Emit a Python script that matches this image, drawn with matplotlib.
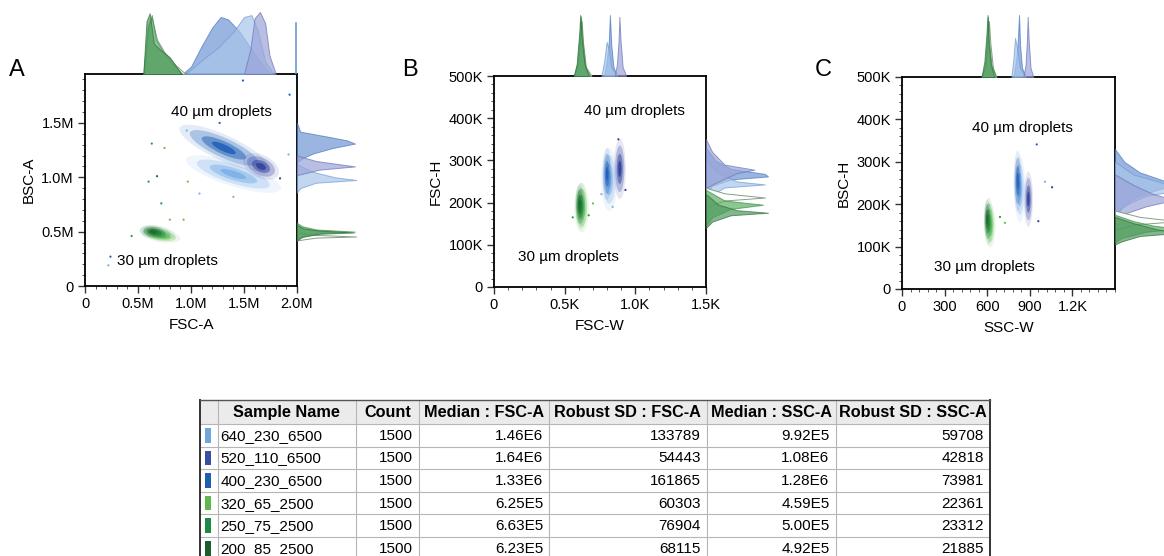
import matplotlib
matplotlib.use("Agg")
import matplotlib.pyplot as plt
from matplotlib.patches import Ellipse, Rectangle
from matplotlib.ticker import MultipleLocator, FixedLocator, FuncFormatter
import numpy as np

plt.rcParams['font.family'] = ['Liberation Sans', 'DejaVu Sans']

# ------------------------------------------------------------------ data
samples = ['640_230_6500', '520_110_6500', '400_230_6500',
           '320_65_2500', '250_75_2500', '200_85_2500']
counts = [1500, 1500, 1500, 1500, 1500, 1500]
median_fsc_a = [1.46e6, 1.64e6, 1.33e6, 6.25e5, 6.63e5, 6.23e5]
robust_sd_fsc_a = [133789, 54443, 161865, 60303, 76904, 68115]
median_ssc_a = [9.92e5, 1.08e6, 1.28e6, 4.59e5, 5.00e5, 4.92e5]
robust_sd_ssc_a = [59708, 42818, 73981, 22361, 23312, 21885]
table_headers = ['', 'Sample Name', 'Count', 'Median : FSC-A', 'Robust SD : FSC-A',
                 'Median : SSC-A', 'Robust SD : SSC-A']

swatch_colors = ['#6fa6de', '#3a4ea6', '#1d5fb2', '#5cba4c', '#1e8b45', '#1c5e2d']
dot_colors = ['#7cb0e8', '#2f3f9e', '#1f5fb8', '#66c050', '#2a9a48', '#1c6b2e']
hist_fill = ['#a9c5ea', '#9ba4d8', '#6f97d4', '#ffffff', '#5fae62', '#4e9a5e']
hist_edge = ['#6f9bd2', '#6a74b8', '#4a78c0', '#7f9a80', '#3b8a48', '#2e6e3c']

# Panel A clusters (FSC-A vs BSC-A, millions)
a_cx = [1.40, 1.66, 1.31, 0.72, 0.68, 0.64]
a_cy = [1.03, 1.10, 1.27, 0.46, 0.49, 0.50]
a_w = [0.72, 0.28, 0.70, 0.28, 0.26, 0.18]
a_h = [0.17, 0.16, 0.18, 0.09, 0.10, 0.09]
a_ang = [-17, -25, -24, -8, -8, -8]
# Panel B clusters (FSC-W in K, FSC-H in K)
b_cx = [0.815, 0.89, 0.80, 0.62, 0.615, 0.605]
b_cy = [255, 280, 268, 188, 192, 195]
b_w = [0.09, 0.065, 0.05, 0.08, 0.06, 0.045]
b_h = [115, 110, 95, 90, 85, 70]
# Panel C clusters (SSC-W, BSC-H in K)
c_cx = [830, 890, 815, 620, 610, 600]
c_cy = [235, 212, 255, 150, 160, 165]
c_w = [60, 50, 45, 60, 50, 35]
c_h = [120, 100, 110, 80, 85, 70]

# isolated events (x, y, sample index)
a_out_x = [1.49, 1.93, 1.92, 0.24, 0.22, 1.27, 0.96, 1.08, 1.40, 1.84,
           0.63, 0.75, 0.60, 0.68, 0.72, 0.97, 0.80, 0.93, 0.44]
a_out_y = [1.89, 1.76, 1.21, 0.27, 0.19, 1.50, 1.43, 0.85, 0.82, 0.99,
           1.31, 1.27, 0.96, 1.01, 0.76, 0.96, 0.61, 0.61, 0.46]
a_out_s = [2, 2, 0, 2, 0, 2, 0, 0, 0, 1, 4, 3, 4, 5, 4, 3, 3, 3, 4]
b_out_x = [0.557, 0.70, 0.84, 0.93, 0.76, 0.88, 0.67]
b_out_y = [165, 198, 190, 230, 220, 350, 170]
b_out_s = [4, 3, 0, 1, 0, 1, 4]
c_out_x = [725, 1007, 1057, 949, 690, 960]
c_out_y = [156, 253, 240, 341, 170, 160]
c_out_s = [3, 0, 1, 2, 4, 1]

# marginal histograms (positions, normalised heights), sample order as above
a_top_pos = [[0.95, 1.10, 1.25, 1.40, 1.50, 1.57, 1.63, 1.70, 1.78],
             [1.50, 1.56, 1.60, 1.65, 1.70, 1.74, 1.80],
             [0.92, 1.00, 1.10, 1.20, 1.28, 1.35, 1.45, 1.55, 1.65, 1.75],
             [0.56, 0.60, 0.63, 0.68, 0.75, 0.85, 0.95],
             [0.55, 0.59, 0.63, 0.67, 0.74, 0.82, 0.92],
             [0.55, 0.58, 0.61, 0.65, 0.71, 0.80, 0.91]]
a_top_h = [[0, 0.22, 0.42, 0.68, 0.92, 0.95, 0.70, 0.20, 0],
           [0, 0.40, 0.90, 1.00, 0.82, 0.30, 0],
           [0, 0.12, 0.45, 0.75, 0.92, 0.88, 0.70, 0.45, 0.20, 0],
           [0, 0.80, 0.90, 0.55, 0.35, 0.15, 0],
           [0, 0.75, 0.95, 0.55, 0.35, 0.18, 0],
           [0, 0.85, 0.98, 0.49, 0.39, 0.27, 0]]
a_sat_x = 1.99
a_sat_h = 0.83
a_right_pos = [[1.12, 1.05, 1.00, 0.975, 0.95, 0.90, 0.86],
               [1.20, 1.15, 1.10, 1.07, 1.02],
               [1.50, 1.42, 1.37, 1.34, 1.31, 1.27, 1.22, 1.18, 1.14],
               [0.49, 0.47, 0.455, 0.445, 0.42],
               [0.58, 0.55, 0.52, 0.50, 0.49, 0.46, 0.43],
               [0.56, 0.53, 0.51, 0.492, 0.48, 0.45, 0.42]]
a_right_h = [[0, 0.25, 0.60, 0.94, 0.30, 0.05, 0],
             [0, 0.30, 0.92, 0.35, 0],
             [0, 0.05, 0.52, 0.79, 0.92, 0.57, 0.26, 0.10, 0],
             [0, 0.30, 0.94, 0.30, 0],
             [0, 0.08, 0.30, 0.92, 0.40, 0.10, 0],
             [0, 0.10, 0.35, 0.90, 0.35, 0.08, 0]]
b_top_pos = [[0.76, 0.78, 0.797, 0.81, 0.83, 0.87],
             [0.855, 0.87, 0.882, 0.887, 0.895, 0.91, 0.935],
             [0.78, 0.80, 0.812, 0.82, 0.83, 0.845, 0.87],
             [0.57, 0.595, 0.61, 0.62, 0.63, 0.65, 0.69],
             [0.565, 0.59, 0.607, 0.615, 0.625, 0.645, 0.68],
             [0.565, 0.585, 0.603, 0.61, 0.62, 0.64, 0.67]]
b_top_h = [[0, 0.25, 0.56, 0.45, 0.15, 0],
           [0, 0.2, 0.6, 0.97, 0.6, 0.15, 0],
           [0, 0.3, 0.55, 1.0, 0.5, 0.15, 0],
           [0, 0.2, 0.6, 0.9, 0.55, 0.15, 0],
           [0, 0.2, 0.7, 0.98, 0.6, 0.15, 0],
           [0, 0.2, 0.7, 1.0, 0.6, 0.2, 0]]
b_right_pos = [[300, 270, 250, 243, 236, 215, 200],
               [350, 320, 290, 278, 270, 250, 235],
               [330, 300, 280, 268, 262, 255, 240, 220],
               [235, 222, 212, 205, 190],
               [230, 205, 195, 185, 165, 145],
               [220, 195, 182, 176, 170, 155, 140]]
b_right_h = [[0, 0.2, 0.5, 0.95, 0.3, 0.05, 0],
             [0, 0.1, 0.3, 0.78, 0.5, 0.2, 0],
             [0, 0.15, 0.4, 0.95, 1.0, 0.4, 0.1, 0],
             [0, 0.3, 0.95, 0.3, 0],
             [0, 0.3, 0.92, 0.4, 0.1, 0],
             [0, 0.2, 0.5, 1.0, 0.4, 0.1, 0]]
c_top_pos = [[770, 785, 796, 808, 830, 870],
             [855, 870, 880, 885, 892, 905, 925],
             [785, 805, 815, 824, 832, 845, 870],
             [565, 590, 603, 612, 622, 640, 665],
             [560, 585, 598, 605, 612, 630, 660],
             [560, 580, 595, 602, 610, 625, 650]]
c_top_h = [[0, 0.3, 0.63, 0.5, 0.15, 0],
           [0, 0.2, 0.6, 0.97, 0.6, 0.15, 0],
           [0, 0.3, 0.55, 1.0, 0.5, 0.15, 0],
           [0, 0.2, 0.55, 0.9, 0.55, 0.15, 0],
           [0, 0.2, 0.6, 0.97, 0.6, 0.2, 0],
           [0, 0.25, 0.7, 1.0, 0.55, 0.2, 0]]
c_right_pos = [[300, 270, 245, 232, 220, 200, 180],
               [270, 245, 225, 210, 195, 180, 165],
               [330, 300, 275, 255, 245, 235, 215, 190, 170],
               [185, 170, 160, 152, 140],
               [175, 160, 150, 142, 135, 120, 110],
               [170, 155, 140, 132, 125, 112, 105]]
c_right_h = [[0, 0.3, 0.9, 1.0, 0.5, 0.2, 0],
             [0, 0.3, 0.6, 0.95, 0.5, 0.2, 0],
             [0, 0.15, 0.4, 0.8, 1.0, 0.7, 0.3, 0.1, 0],
             [0, 0.4, 1.0, 0.3, 0],
             [0, 0.3, 0.6, 1.0, 0.5, 0.1, 0],
             [0, 0.3, 0.7, 1.0, 0.4, 0.1, 0]]

hist_order = [2, 0, 1, 3, 4, 5]
draw_order = [0, 2, 1, 3, 4, 5]

# ------------------------------------------------------------------ figure
W, H = 1164, 556
fig = plt.figure(figsize=(W / 100, H / 100), dpi=100)


def px_axes(x0, y0, x1, y1, **kw):
    return fig.add_axes([x0 / W, 1 - y1 / H, (x1 - x0) / W, (y1 - y0) / H], **kw)


FS_TICK = 10.5
FS_LAB = 11


def style_main(ax, xlabel, ylabel, ylabpad):
    for s in ax.spines.values():
        s.set_linewidth(1.3)
        s.set_color('black')
    ax.tick_params(which='major', direction='out', length=5, width=1,
                   labelsize=FS_TICK, pad=3, color='#333333')
    ax.tick_params(which='minor', direction='out', length=2.5, width=0.7, color='#555555')
    ax.set_xlabel(xlabel, fontsize=FS_LAB, labelpad=5)
    ax.set_ylabel(ylabel, fontsize=FS_LAB, labelpad=ylabpad)


LAYERS = [(1.3, 0.12), (1.0, 0.28), (0.65, 0.5), (0.35, 0.85)]


def draw_clusters(ax, cx, cy, w, h, ang=None):
    for i in draw_order:
        a = 0 if ang is None else ang[i]
        for sc, al in LAYERS:
            ax.add_patch(Ellipse((cx[i], cy[i]), w[i] * sc, h[i] * sc, angle=a,
                                 facecolor=dot_colors[i], edgecolor='none', alpha=al, zorder=2))


def draw_out(ax, xs, ys, ss):
    ax.scatter(xs, ys, s=2.5, c=[dot_colors[k] for k in ss], linewidths=0, zorder=3)


def draw_top(ax, pos, hh, xlim):
    ax.set_xlim(*xlim)
    ax.set_ylim(0, 1)
    ax.axis('off')
    for i in hist_order:
        al = 0.95 if i == 3 else 0.7
        ax.fill_between(pos[i], 0, hh[i], facecolor=hist_fill[i], edgecolor=hist_edge[i],
                        linewidth=0.7, alpha=al)


def draw_right(ax, pos, hh, ylim):
    ax.set_ylim(*ylim)
    ax.set_xlim(0, 1)
    ax.axis('off')
    for i in hist_order:
        al = 0.95 if i == 3 else 0.7
        ax.fill_betweenx(pos[i], 0, hh[i], facecolor=hist_fill[i], edgecolor=hist_edge[i],
                         linewidth=0.7, alpha=al)


# ---------------- Panel A
axA = px_axes(85, 74, 297, 286)
axA.set_xlim(0, 2.0)
axA.set_ylim(0, 1.95)
axA.xaxis.set_major_locator(FixedLocator([0, 0.5, 1.0, 1.5, 2.0]))
axA.yaxis.set_major_locator(FixedLocator([0, 0.5, 1.0, 1.5]))
axA.xaxis.set_minor_locator(MultipleLocator(0.1))
axA.yaxis.set_minor_locator(MultipleLocator(0.1))
fmtM = FuncFormatter(lambda v, p: '0' if abs(v) < 1e-9 else f'{v:.1f}M')
axA.xaxis.set_major_formatter(fmtM)
axA.yaxis.set_major_formatter(fmtM)
style_main(axA, 'FSC-A', 'BSC-A', 4)
draw_clusters(axA, a_cx, a_cy, a_w, a_h, a_ang)
draw_out(axA, a_out_x, a_out_y, a_out_s)
axA.text(0.81, 1.60, '40 µm droplets', fontsize=FS_LAB, va='center', ha='left')
axA.text(0.30, 0.23, '30 µm droplets', fontsize=FS_LAB, va='center', ha='left')

axAt = px_axes(85, 12, 297, 74)
draw_top(axAt, a_top_pos, a_top_h, (0, 2.0))
axAt.plot([a_sat_x, a_sat_x], [0, a_sat_h], color='#6f9bd2', lw=1.2)
axAr = px_axes(297, 74, 360, 286)
draw_right(axAr, a_right_pos, a_right_h, (0, 1.95))

# ---------------- Panel B
axB = px_axes(494, 76, 706, 287)
axB.set_xlim(0, 1.5)
axB.set_ylim(0, 500)
axB.xaxis.set_major_locator(FixedLocator([0, 0.5, 1.0, 1.5]))
axB.yaxis.set_major_locator(FixedLocator([0, 100, 200, 300, 400, 500]))
axB.xaxis.set_minor_locator(MultipleLocator(0.1))
axB.yaxis.set_minor_locator(MultipleLocator(20))
axB.xaxis.set_major_formatter(FuncFormatter(lambda v, p: '0' if abs(v) < 1e-9 else f'{v:.1f}K'))
axB.yaxis.set_major_formatter(FuncFormatter(lambda v, p: '0' if abs(v) < 1e-9 else f'{int(round(v))}K'))
style_main(axB, 'FSC-W', 'FSC-H', 4)
draw_clusters(axB, b_cx, b_cy, b_w, b_h)
draw_out(axB, b_out_x, b_out_y, b_out_s)
axB.text(0.64, 417, '40 µm droplets', fontsize=FS_LAB, va='center', ha='left')
axB.text(0.17, 71, '30 µm droplets', fontsize=FS_LAB, va='center', ha='left')

axBt = px_axes(494, 15, 706, 76)
draw_top(axBt, b_top_pos, b_top_h, (0, 1.5))
axBr = px_axes(706, 76, 768, 287)
draw_right(axBr, b_right_pos, b_right_h, (0, 500))

# ---------------- Panel C
axC = px_axes(902, 77, 1115, 289)
axC.set_xlim(0, 1500)
axC.set_ylim(0, 500)
axC.xaxis.set_major_locator(FixedLocator([0, 300, 600, 900, 1200]))
axC.yaxis.set_major_locator(FixedLocator([0, 100, 200, 300, 400, 500]))
axC.xaxis.set_minor_locator(MultipleLocator(60))
axC.yaxis.set_minor_locator(MultipleLocator(20))
axC.xaxis.set_major_formatter(FuncFormatter(lambda v, p: f'{v / 1000:.1f}K' if v >= 1000 else f'{int(round(v))}'))
axC.yaxis.set_major_formatter(FuncFormatter(lambda v, p: '0' if abs(v) < 1e-9 else f'{int(round(v))}K'))
style_main(axC, 'SSC-W', 'BSC-H', 4)
draw_clusters(axC, c_cx, c_cy, c_w, c_h)
draw_out(axC, c_out_x, c_out_y, c_out_s)
axC.text(493, 380, '40 µm droplets', fontsize=FS_LAB, va='center', ha='left')
axC.text(225, 52, '30 µm droplets', fontsize=FS_LAB, va='center', ha='left')

axCt = px_axes(902, 15, 1115, 77)
draw_top(axCt, c_top_pos, c_top_h, (0, 1500))
axCr = px_axes(1115, 77, 1177, 289)
draw_right(axCr, c_right_pos, c_right_h, (0, 500))

# panel letters
fig.text(9 / W, 1 - 70 / H, 'A', fontsize=17, va='center', ha='left')
fig.text(402 / W, 1 - 70 / H, 'B', fontsize=17, va='center', ha='left')
fig.text(815 / W, 1 - 70 / H, 'C', fontsize=17, va='center', ha='left')

# ------------------------------------------------------------------ table
axT = px_axes(0, 0, W, H)
axT.set_xlim(0, W)
axT.set_ylim(H, 0)
axT.axis('off')
axT.patch.set_alpha(0)

col_x = [200, 217.7, 355.7, 419, 549, 706.7, 835.5, 990]
head_top, head_bot, row_h = 400, 424, 22.6
n_rows = len(samples)
tab_bot = head_bot + row_h * n_rows

axT.add_patch(Rectangle((col_x[0], head_top), col_x[-1] - col_x[0], head_bot - head_top,
                        facecolor='#ebebeb', edgecolor='none'))
# grid
for x in col_x[1:-1]:
    axT.plot([x, x], [head_top, tab_bot], color='#b5b5b5', lw=0.8)
for r in range(n_rows + 1):
    y = head_bot + r * row_h
    axT.plot([col_x[0], col_x[-1]], [y, y], color='#b5b5b5', lw=0.8)
axT.plot([col_x[0], col_x[0]], [head_top, tab_bot], color='#333333', lw=1.4)
axT.plot([col_x[-1], col_x[-1]], [head_top, tab_bot], color='#333333', lw=1.4)
axT.plot([col_x[0], col_x[-1]], [head_top, head_top], color='#555555', lw=1.0)

for j, hd in enumerate(table_headers):
    if hd:
        axT.text((col_x[j] + col_x[j + 1]) / 2, (head_top + head_bot) / 2 + 0.5, hd,
                 fontsize=11.7, fontweight='bold', ha='center', va='center')


def fmt_e(v):
    e = int(np.floor(np.log10(v)))
    return f'{v / 10 ** e:.2f}E{e}'


for r in range(n_rows):
    yc = head_bot + r * row_h + row_h / 2 + 0.5
    axT.add_patch(Rectangle((205, head_bot + r * row_h + 4), 6, row_h - 8,
                            facecolor=swatch_colors[r], edgecolor='none'))
    axT.text(col_x[1] + 3, yc, samples[r], fontsize=11, ha='left', va='center')
    vals = [str(counts[r]), fmt_e(median_fsc_a[r]), str(robust_sd_fsc_a[r]),
            fmt_e(median_ssc_a[r]), str(robust_sd_ssc_a[r])]
    for k, v in enumerate(vals):
        axT.text(col_x[k + 3] - 6, yc, v, fontsize=11, ha='right', va='center')

fig.savefig('out.png', dpi=100)
